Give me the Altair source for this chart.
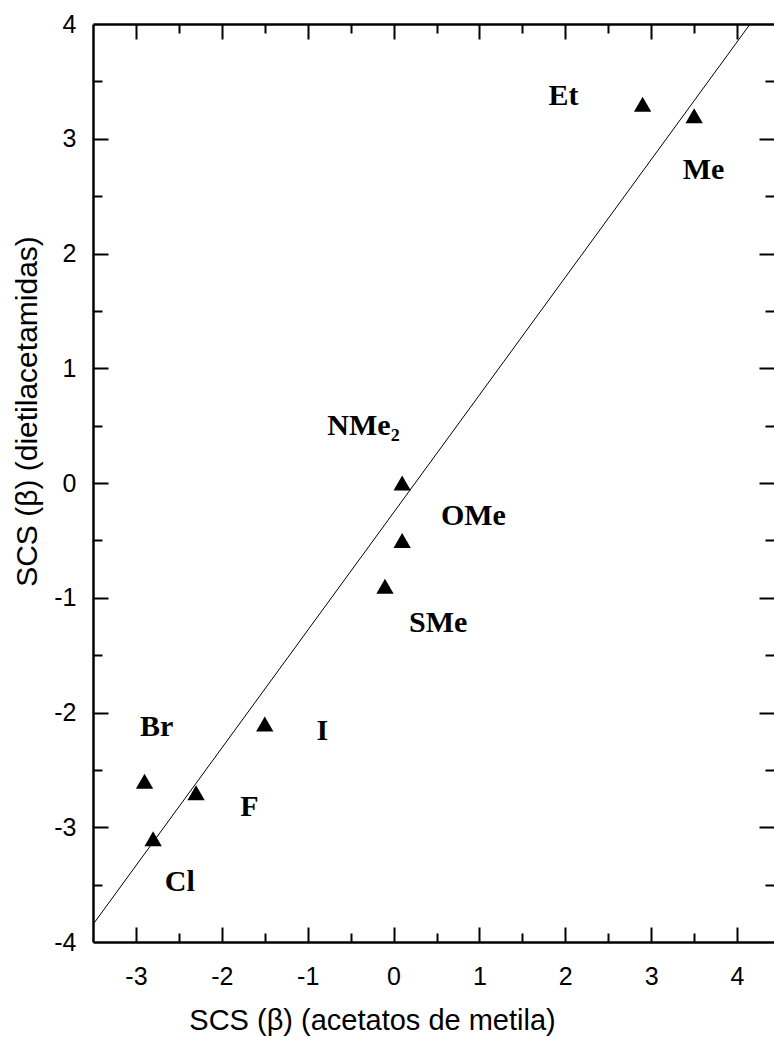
import altair as alt
import pandas as pd

# Substituent SCS (beta) values: methyl acetates vs. diethylacetamides
substituents = ["Et", "Me", "NMe₂", "OMe", "SMe", "Br", "F", "Cl", "I"]
scs_acetatos = [2.9, 3.5, 0.1, 0.1, -0.1, -2.9, -2.3, -2.8, -1.5]
scs_dietil = [3.3, 3.2, 0.0, -0.5, -0.9, -2.6, -2.7, -3.1, -2.1]

# where each substituent name is written, in data units
label_x = [1.98, 3.61, -0.35, 0.93, 0.52, -2.76, -1.68, -2.49, -0.83]
label_y = [3.37, 2.73, 0.50, -0.29, -1.22, -2.13, -2.82, -3.48, -2.16]

x_domain = [-3.5, 4.43]
y_domain = [-4, 4]
x_major = [-3, -2, -1, 0, 1, 2, 3, 4]
x_minor = [-2.5, -1.5, -0.5, 0.5, 1.5, 2.5, 3.5]
y_major = [-4, -3, -2, -1, 0, 1, 2, 3, 4]
y_minor = [-3.5, -2.5, -1.5, -0.5, 0.5, 1.5, 2.5, 3.5]

df = pd.DataFrame({"sub": substituents, "sx": scs_acetatos, "sy": scs_dietil})
lab = pd.DataFrame({"sub": substituents, "lx": label_x, "ly": label_y})

xs = alt.Scale(domain=x_domain, nice=False, zero=False)
ys = alt.Scale(domain=y_domain, nice=False, zero=False)

SANS = "Liberation Sans"
SERIF = "Liberation Serif"
W, H = 681, 918
FRAME = 2.5
HYPHEN = "datum.value < 0 ? '-' + abs(datum.value) : '' + datum.value"


def tick_axis(orient, values, size):
    # inward ticks: pull the axis into the plot by the tick length
    return alt.Axis(orient=orient, values=values, labels=False, domain=False,
                    grid=False, ticks=True, tickSize=size, offset=-size,
                    tickWidth=2, tickColor="black", title=None)


x_main = alt.Axis(orient="bottom", values=x_major, ticks=False,
                  domain=True, domainColor="black", domainWidth=FRAME,
                  grid=False, labelFont=SANS, labelFontSize=25,
                  labelColor="black", labelPadding=42,
                  labelBaseline="alphabetic", labelExpr=HYPHEN,
                  title="SCS (β) (acetatos de metila)", titleFont=SANS,
                  titleFontSize=29, titleFontWeight="normal",
                  titleColor="black", titleX=279, titleY=87,
                  titleBaseline="alphabetic", titleAlign="center")
y_main = alt.Axis(orient="left", values=y_major, ticks=False,
                  domain=True, domainColor="black", domainWidth=FRAME,
                  grid=False, labelFont=SANS, labelFontSize=25,
                  labelColor="black", labelPadding=17, labelExpr=HYPHEN,
                  title="SCS (β) (dietilacetamidas)", titleFont=SANS,
                  titleFontSize=30, titleFontWeight="normal",
                  titleColor="black", titleAngle=270, titleX=-57,
                  titleY=387, titleBaseline="alphabetic",
                  titleAlign="center")
x_top_line = alt.Axis(orient="top", labels=False, ticks=False, grid=False,
                      domain=True, domainColor="black", domainWidth=FRAME,
                      title=None)

points = alt.Chart(df).mark_point(shape="triangle-up", filled=True, size=300,
                                  color="black", opacity=1).encode(
    x=alt.X("sx:Q", scale=xs, axis=x_main),
    y=alt.Y("sy:Q", scale=ys, axis=y_main),
)

fit = alt.Chart(df).transform_regression(
    "sx", "sy", extent=[-3.5, 4.5]
).mark_line(color="black", strokeWidth=1, clip=True).encode(
    x=alt.X("sx:Q", scale=xs, axis=tick_axis("bottom", x_major, 15)),
    y=alt.Y("sy:Q", scale=ys, axis=tick_axis("left", y_major[1:-1], 15)),
)

names = alt.Chart(lab).mark_text(font=SERIF, fontWeight="bold", fontSize=30,
                                 color="black", align="center",
                                 baseline="middle").encode(
    x=alt.X("lx:Q", scale=xs, axis=tick_axis("bottom", x_minor, 9)),
    y=alt.Y("ly:Q", scale=ys, axis=tick_axis("left", y_minor, 9)),
    text="sub:N",
)

top_major = alt.Chart(df).mark_point(opacity=0).encode(
    x=alt.X("sx:Q", scale=xs, axis=tick_axis("top", x_major, 15)),
    y=alt.Y("sy:Q", scale=ys, axis=tick_axis("right", y_major[1:-1], 15)),
)
top_minor = alt.Chart(df).mark_point(opacity=0).encode(
    x=alt.X("sx:Q", scale=xs, axis=tick_axis("top", x_minor, 9)),
    y=alt.Y("sy:Q", scale=ys, axis=tick_axis("right", y_minor, 9)),
)
top_line = alt.Chart(df).mark_point(opacity=0).encode(
    x=alt.X("sx:Q", scale=xs, axis=x_top_line),
    y=alt.Y("sy:Q", scale=ys, axis=None),
)

chart = alt.layer(points, fit, names, top_major, top_minor, top_line).resolve_axis(
    x="independent", y="independent"
).properties(
    width=W, height=H,
    autosize=alt.AutoSizeParams(type="none"),
    padding={"left": 93, "top": 24, "right": 0, "bottom": 95},
    background="white",
).configure_view(stroke=None)

chart.save("out.html", embed_options={"renderer": "svg", "actions": False})
